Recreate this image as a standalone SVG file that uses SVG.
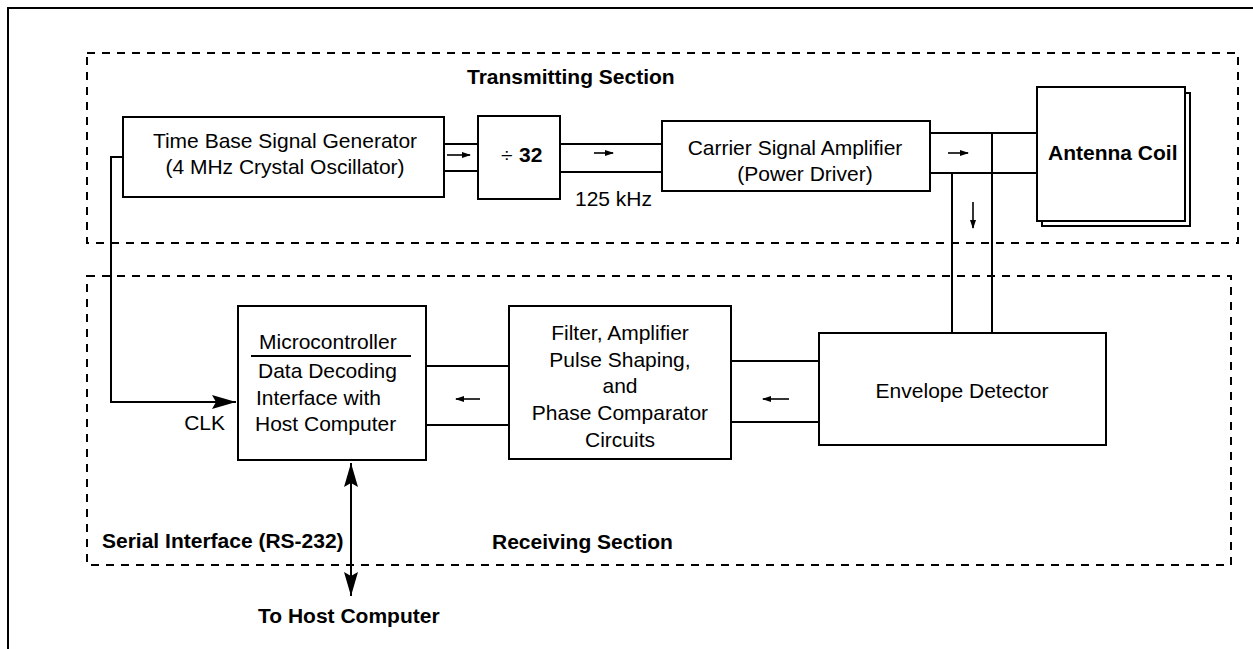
<svg xmlns="http://www.w3.org/2000/svg" width="1253" height="649" viewBox="0 0 1253 649">
<style>
  .box{fill:#fff;stroke:#000;stroke-width:2}
  .dash{fill:none;stroke:#000;stroke-width:2;stroke-dasharray:8 7}
  .ln{fill:none;stroke:#000;stroke-width:2}
  .sa{fill:none;stroke:#000;stroke-width:1.6}
  text{font-family:"Liberation Sans",Arial,sans-serif;font-size:21px;fill:#000}
  .b{font-weight:bold}
  .m{text-anchor:middle}
</style>
<defs>
  <marker id="small" markerUnits="userSpaceOnUse" markerWidth="9" markerHeight="6" refX="8" refY="3" orient="auto">
    <path d="M0,0 L9,3 L0,6 z" fill="#000"/>
  </marker>
  <marker id="big" markerUnits="userSpaceOnUse" markerWidth="24" markerHeight="14" refX="24" refY="7" orient="auto-start-reverse">
    <path d="M0,0 L24,7 L0,14 L4,7 z" fill="#000"/>
  </marker>
</defs>
<rect width="1253" height="649" fill="#fff"/>
<path class="ln" d="M8,649 V8 H1253" stroke-width="2.5"/>

<g id="sections">
  <rect class="dash" x="87" y="53" width="1151" height="190"/>
  <rect class="dash" x="87" y="276" width="1144" height="289"/>
  <text class="b" x="467" y="84">Transmitting Section</text>
  <text class="b" x="492" y="549">Receiving Section</text>
  <text class="b" x="102" y="548">Serial Interface (RS-232)</text>
</g>

<g id="connectors">
  <!-- time base to divider -->
  <line class="ln" x1="444" y1="144" x2="478" y2="144"/>
  <line class="ln" x1="444" y1="171" x2="478" y2="171"/>
  <line class="sa" x1="447" y1="155" x2="470" y2="155" marker-end="url(#small)"/>
  <!-- divider to carrier -->
  <line class="ln" x1="560" y1="144" x2="662" y2="144"/>
  <line class="ln" x1="560" y1="172" x2="662" y2="172"/>
  <line class="sa" x1="594" y1="153" x2="613" y2="153" marker-end="url(#small)"/>
  <!-- carrier to antenna -->
  <line class="ln" x1="930" y1="133" x2="1037" y2="133"/>
  <line class="ln" x1="930" y1="173" x2="1037" y2="173"/>
  <line class="sa" x1="948" y1="153" x2="968" y2="153" marker-end="url(#small)"/>
  <!-- to envelope detector -->
  <line class="ln" x1="952" y1="173" x2="952" y2="333"/>
  <line class="ln" x1="992" y1="133" x2="992" y2="333"/>
  <line class="sa" x1="973" y1="202" x2="973" y2="228" marker-end="url(#small)"/>
  <!-- envelope to filter -->
  <line class="ln" x1="731" y1="361" x2="819" y2="361"/>
  <line class="ln" x1="731" y1="422" x2="819" y2="422"/>
  <line class="sa" x1="789" y1="399" x2="763" y2="399" marker-end="url(#small)"/>
  <!-- filter to microcontroller -->
  <line class="ln" x1="426" y1="366" x2="509" y2="366"/>
  <line class="ln" x1="426" y1="425" x2="509" y2="425"/>
  <line class="sa" x1="480" y1="399" x2="456" y2="399" marker-end="url(#small)"/>
  <!-- clock -->
  <path class="ln" d="M123,157 H111 V402 H236" marker-end="url(#big)"/>
  <text x="225" y="430" text-anchor="end">CLK</text>
  <!-- serial interface -->
  <line class="ln" x1="351" y1="463" x2="351" y2="596" stroke-width="2.5" marker-start="url(#big)" marker-end="url(#big)"/>
  <text class="b" x="258" y="623">To Host Computer</text>
</g>

<g id="timebase">
  <rect class="box" x="123" y="117" width="321" height="80"/>
  <text class="m" x="285" y="148">Time Base Signal Generator</text>
  <text class="m" x="285" y="174">(4 MHz Crystal Oscillator)</text>
</g>

<g id="divider">
  <rect class="box" x="478" y="116" width="82" height="83"/>
  <text x="501" y="162">÷</text>
  <text class="b" x="519" y="162">32</text>
  <text x="575" y="206">125 kHz</text>
</g>

<g id="carrier">
  <rect class="box" x="662" y="121" width="268" height="70"/>
  <text class="m" x="795" y="155">Carrier Signal Amplifier</text>
  <text class="m" x="805" y="181">(Power Driver)</text>
</g>

<g id="antenna">
  <rect class="box" x="1042" y="93" width="148" height="133"/>
  <rect class="box" x="1037" y="87" width="148" height="134"/>
  <text class="b" x="1048" y="160">Antenna Coil</text>
</g>

<g id="microcontroller">
  <rect class="box" x="238" y="306" width="188" height="154"/>
  <text x="259" y="349">Microcontroller</text>
  <line class="ln" x1="251" y1="356" x2="411" y2="356"/>
  <text x="258" y="378">Data Decoding</text>
  <text x="256" y="405">Interface with</text>
  <text x="255" y="431">Host Computer</text>
</g>

<g id="filter">
  <rect class="box" x="509" y="306" width="222" height="153"/>
  <text class="m" x="620" y="340">Filter, Amplifier</text>
  <text class="m" x="620" y="367">Pulse Shaping,</text>
  <text class="m" x="620" y="393">and</text>
  <text class="m" x="620" y="420">Phase Comparator</text>
  <text class="m" x="620" y="447">Circuits</text>
</g>

<g id="envelope">
  <rect class="box" x="819" y="333" width="287" height="112"/>
  <text class="m" x="962" y="398">Envelope Detector</text>
</g>
</svg>
